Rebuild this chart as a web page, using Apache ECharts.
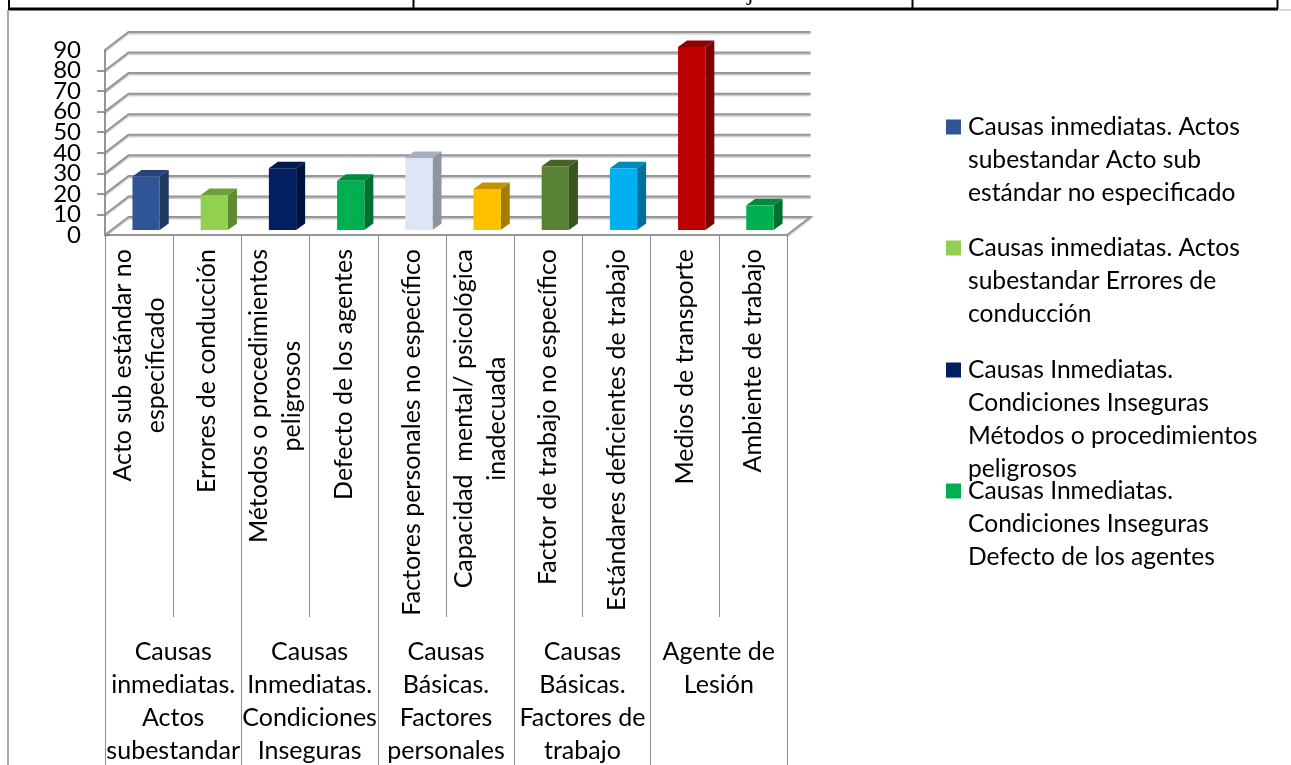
<!DOCTYPE html>
<html>
<head>
<meta charset="utf-8">
<style>html,body{margin:0;padding:0;background:#fff}#c{width:1291px;height:765px}</style>
<script src="https://cdn.jsdelivr.net/npm/echarts@6/dist/echarts.min.js"></script>
</head>
<body>
<div id="c"></div>
<script>
var categories = ['Acto sub estándar no\nespecificado','Errores de conducción','Métodos o procedimientos\npeligrosos','Defecto de los agentes','Factores personales no específico','Capacidad  mental/ psicológica\ninadecuada','Factor de trabajo no específico','Estándares deficientes de trabajo','Medios de transporte','Ambiente de trabajo'];
var groups = ['Causas\ninmediatas.\nActos\nsubestandar','Causas\nInmediatas.\nCondiciones\nInseguras','Causas\nBásicas.\nFactores\npersonales','Causas\nBásicas.\nFactores de\ntrabajo','Agente de\nLesión'];
var values = [26,17,30,24,35,20,31,30,89,12];
var seriesNames = [
 'Causas inmediatas. Actos\nsubestandar Acto sub\nestándar no especificado',
 'Causas inmediatas. Actos\nsubestandar Errores de\nconducción',
 'Causas Inmediatas.\nCondiciones Inseguras\nMétodos o procedimientos\npeligrosos',
 'Causas Inmediatas.\nCondiciones Inseguras\nDefecto de los agentes',
 'Causas Básicas. Factores personales Factores personales no específico',
 'Causas Básicas. Factores personales Capacidad mental/ psicológica inadecuada',
 'Causas Básicas. Factores de trabajo Factor de trabajo no específico',
 'Causas Básicas. Factores de trabajo Estándares deficientes de trabajo',
 'Agente de Lesión Medios de transporte',
 'Agente de Lesión Ambiente de trabajo'];
var frontColors = ['#2F5597','#92D050','#002060','#00B050','#DCE6F4','#FFC000','#5A8234','#00B0F0','#C00000','#00B050'];
var sideColors  = ['#1F3864','#5E8A30','#001440','#007030','#8D969E','#A67C00','#3A5420','#00709A','#7B0000','#007030'];
var topColors   = ['#264478','#6E9F3A','#001A4E','#008A3E','#A5B0BA','#C49400','#456527','#0089BB','#8F0000','#008A3E'];
var yTicks = [0,10,20,30,40,50,60,70,80,90];
var legendTops = [127,248,370,491];

var FONT = 'Lato, Carlito, Calibri, sans-serif';
var LINE = 33;
var DX = 9, DY = 6.5, WX = 23.5, WY = 18;
var GRID = '#969696';

function wallItem(params, api) {
  var cs = params.coordSys;
  var y = api.coord([0, api.value(0)])[1];
  var l = cs.x, r = cs.x + cs.width;
  var pts = [[l, y], [l + WX, y - WY], [r + WX, y - WY]];
  if (api.value(0) === 0) pts = [[r, y], [r + WX, y - WY], [l + WX, y - WY], [l, y]];
  return {type:'polyline', shape:{points:pts}, style:{stroke:GRID, lineWidth:2, fill:null,
    shadowColor:'rgba(0,0,0,0.22)', shadowBlur:1, shadowOffsetY:1.5}};
}
function barItem(idx) {
  return function(params, api) {
    var w = api.size([1,0])[0] * 0.4;
    var p = api.coord([api.value(0), api.value(1)]);
    var b = api.coord([api.value(0), 0]);
    var x0 = p[0] + 7 - w/2, x1 = x0 + w, yt = p[1] - 5, yb = b[1] - 5;
    return {type:'group', children:[
      {type:'polygon', shape:{points:[[x1,yt],[x1+DX,yt-DY],[x1+DX,yb-DY],[x1,yb]]}, style:{fill:sideColors[idx]}},
      {type:'polygon', shape:{points:[[x0,yt],[x0+DX,yt-DY],[x1+DX,yt-DY],[x1,yt]]}, style:{fill:topColors[idx]}},
      {type:'rect', shape:{x:x0,y:yt,width:w,height:yb-yt}, style:{fill:frontColors[idx]}}
    ]};
  };
}
var series = [{type:'custom', name:'walls', xAxisIndex:0, yAxisIndex:0, silent:true, z:1,
  data: yTicks.map(function(v){return [v];}), encode:{y:0}, renderItem:wallItem}];
values.forEach(function(v,i){
  series.push({type:'custom', name:seriesNames[i], xAxisIndex:0, yAxisIndex:0, z:3, silent:true,
    itemStyle:{color:frontColors[i]}, encode:{x:0,y:1}, data:[[i,v]], renderItem:barItem(i)});
});
var legends = legendTops.map(function(t,i){
  var n = seriesNames[i];
  var lines = n.split('\n').length;
  var blanks = lines - 1;
  return {show:true, orient:'vertical', left:946, top:t - (blanks*LINE + LINE/2), padding:0,
    icon:'rect', itemWidth:15, itemHeight:15, selectedMode:false,
    data:[n],
    formatter:function(name){ var s=''; for(var k=0;k<blanks;k++) s+='\n'; return s+name; },
    textStyle:{fontFamily:FONT, fontSize:24.6, color:'#000', lineHeight:LINE, padding:[0,0,0,2]}};
});
function ln(x1,y1,x2,y2,c,w){return {type:'line',silent:true,z:10,shape:{x1:x1,y1:y1,x2:x2,y2:y2},style:{stroke:c,lineWidth:w}};}
var chart = echarts.init(document.getElementById('c'));
chart.setOption({
  animation:false,
  backgroundColor:'#fff',
  grid:{left:105, top:50, width:682, height:185, containLabel:false, outerBoundsMode:'none'},
  legend:legends,
  xAxis:[
   {type:'category', data:categories, position:'bottom',
    axisLine:{lineStyle:{color:GRID,width:2}},
    axisTick:{show:true,alignWithLabel:false,length:382,lineStyle:{color:'#8f8f8f',width:1}},
    axisLabel:{interval:0, rotate:90, margin:14, color:'#000',
      fontFamily:FONT, fontSize:25,
      formatter:function(v){return v.split('\n').map(function(l){return '{c|'+l+'}';}).join('\n');},
      rich:{c:{align:'center',fontFamily:FONT,fontSize:25,lineHeight:LINE,color:'#000'}}}},
   {type:'category', data:groups, position:'bottom',
    axisLine:{show:false},
    axisTick:{show:true,length:530,lineStyle:{color:'#8f8f8f',width:1}},
    axisLabel:{interval:0, margin:401, color:'#000', align:'center', verticalAlign:'top',
      fontFamily:FONT, fontSize:25, lineHeight:32.7}}
  ],
  yAxis:[
   {type:'value', min:0, max:90, interval:10, position:'left',
    axisLine:{show:true,onZero:false,lineStyle:{color:GRID,width:2}},
    axisTick:{show:true,length:8,lineStyle:{color:GRID,width:2}},
    splitLine:{show:false},
    axisLabel:{margin:24,color:'#000',fontFamily:FONT,fontSize:24,showMinLabel:false,showMaxLabel:false}},
   {type:'value', min:0, max:90, interval:10, position:'left',
    axisLine:{show:false}, axisTick:{show:false}, splitLine:{show:false},
    axisLabel:{margin:24,color:'#000',fontFamily:FONT,fontSize:24,showMinLabel:true,showMaxLabel:true,
      formatter:function(v){return (v===yTicks[0]||v===yTicks[yTicks.length-1])?String(v):'';}}}
  ],
  series:series,
  graphic:[
    ln(8,9,1278,9,'#000',3),
    ln(9,0,9,9,'#000',2),
    ln(413.5,0,413.5,9,'#000',2),
    ln(912.5,0,912.5,9,'#000',2),
    ln(1277.5,0,1277.5,9,'#000',2),
    ln(1279,10,1291,10,'#c8c8c8',1.5),
    ln(8,10,8,765,'#ababab',2),
    {type:'text',silent:true,z:10,x:747,y:-18,style:{text:'j',font:'24px "Liberation Serif"',fill:'#000'}}
  ]
});
</script>
</body>
</html>
